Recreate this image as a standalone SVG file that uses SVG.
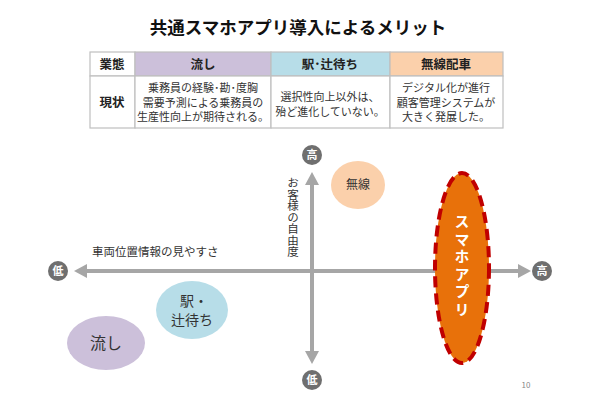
<svg xmlns="http://www.w3.org/2000/svg" width="590" height="413" viewBox="0 0 590 413">
<style>
text{font-family:"Noto Sans CJK JP","Noto Sans",sans-serif;fill:#222}
.title{font-size:17.5px;font-weight:bold;text-anchor:middle;fill:#111}
.th{font-size:12.5px;font-weight:bold;text-anchor:middle}
.td{font-size:11px;text-anchor:middle;fill:#333}
.cell{stroke:#bfbfbf;stroke-width:1.2}
.axis{stroke:#a6a6a6;stroke-width:4;fill:none}
.head{fill:#a6a6a6}
.badge{fill:#6f6f6f}
.bt{font-size:11px;font-weight:bold;fill:#fff;text-anchor:middle}
.lbl{font-size:11.5px;fill:#333}
.ntext{text-anchor:middle;fill:#333}
</style>
<rect width="590" height="413" fill="#fff"/>
<text class="title" x="298" y="34">共通スマホアプリ導入によるメリット</text>
<g id="table">
<rect class="cell" x="90" y="52" width="45" height="24" fill="#fff"/>
<rect class="cell" x="135" y="52" width="136" height="24" fill="#ccc0da"/>
<rect class="cell" x="271" y="52" width="119" height="24" fill="#b7dde8"/>
<rect class="cell" x="390" y="52" width="113" height="24" fill="#fbd0ab"/>
<rect class="cell" x="90" y="76" width="45" height="52" fill="#fff"/>
<rect class="cell" x="135" y="76" width="136" height="52" fill="#fff"/>
<rect class="cell" x="271" y="76" width="119" height="52" fill="#fff"/>
<rect class="cell" x="390" y="76" width="113" height="52" fill="#fff"/>
<text class="th" x="112" y="68.5">業態</text>
<text class="th" x="203" y="68.5">流し</text>
<text class="th" x="330" y="68.5">駅･辻待ち</text>
<text class="th" x="446" y="68.5">無線配車</text>
<text class="th" x="112" y="107">現状</text>
<text class="td" x="203" y="92">乗務員の経験･勘･度胸</text>
<text class="td" x="203" y="106.5">需要予測による乗務員の</text>
<text class="td" x="203" y="121">生産性向上が期待される。</text>
<text class="td" x="330" y="100.5">選択性向上以外は、</text>
<text class="td" x="330" y="115.5">殆ど進化していない。</text>
<text class="td" x="446" y="92">デジタル化が進行</text>
<text class="td" x="446" y="106.5">顧客管理システムが</text>
<text class="td" x="446" y="121">大きく発展した。</text>
</g>
<g id="connectors">
<line class="axis" x1="84" y1="271" x2="522" y2="271"/>
<polygon class="head" points="74,271 87,264 87,278"/>
<polygon class="head" points="531,271 518,264 518,278"/>
<line class="axis" x1="312" y1="182" x2="312" y2="355"/>
<polygon class="head" points="312,172 305,185 319,185"/>
<polygon class="head" points="312,364 305,351 319,351"/>
</g>
<g id="badge-top"><circle class="badge" cx="312" cy="155" r="10"/><text class="bt" x="312" y="159">高</text></g>
<g id="badge-right"><circle class="badge" cx="542" cy="271" r="10"/><text class="bt" x="542" y="275">高</text></g>
<g id="badge-bottom"><circle class="badge" cx="312" cy="380" r="10"/><text class="bt" x="312" y="384">低</text></g>
<g id="badge-left"><circle class="badge" cx="58" cy="271" r="10"/><text class="bt" x="58" y="275">低</text></g>
<g id="label-x"><text class="lbl" x="92" y="256">車両位置情報の見やすさ</text></g>
<g id="label-y"><text class="lbl" x="293" y="177" style="writing-mode:vertical-rl">お客様の自由度</text></g>
<g id="node-musen"><ellipse cx="358" cy="185" rx="27" ry="24" fill="#fbd0ab"/><text class="ntext" x="358" y="189" font-size="12">無線</text></g>
<g id="node-eki"><ellipse cx="192" cy="310" rx="36" ry="29" fill="#b7dde8"/><text class="ntext" x="194" y="306" font-size="14">駅・</text><text class="ntext" x="192" y="325" font-size="14">辻待ち</text></g>
<g id="node-nagashi"><ellipse cx="106" cy="343" rx="39" ry="27" fill="#ccc0da"/><text class="ntext" x="106" y="349" font-size="16">流し</text></g>
<g id="node-app"><ellipse cx="462" cy="268" rx="27" ry="95" fill="#e8710a" stroke="#c00000" stroke-width="4" stroke-dasharray="11,6"/>
<text x="462" y="214" font-size="15" font-weight="bold" letter-spacing="2.5" style="fill:#fff;writing-mode:vertical-rl">スマホアプリ</text></g>
<text x="526" y="388" font-size="8" style="fill:#888;text-anchor:middle">10</text>
</svg>
